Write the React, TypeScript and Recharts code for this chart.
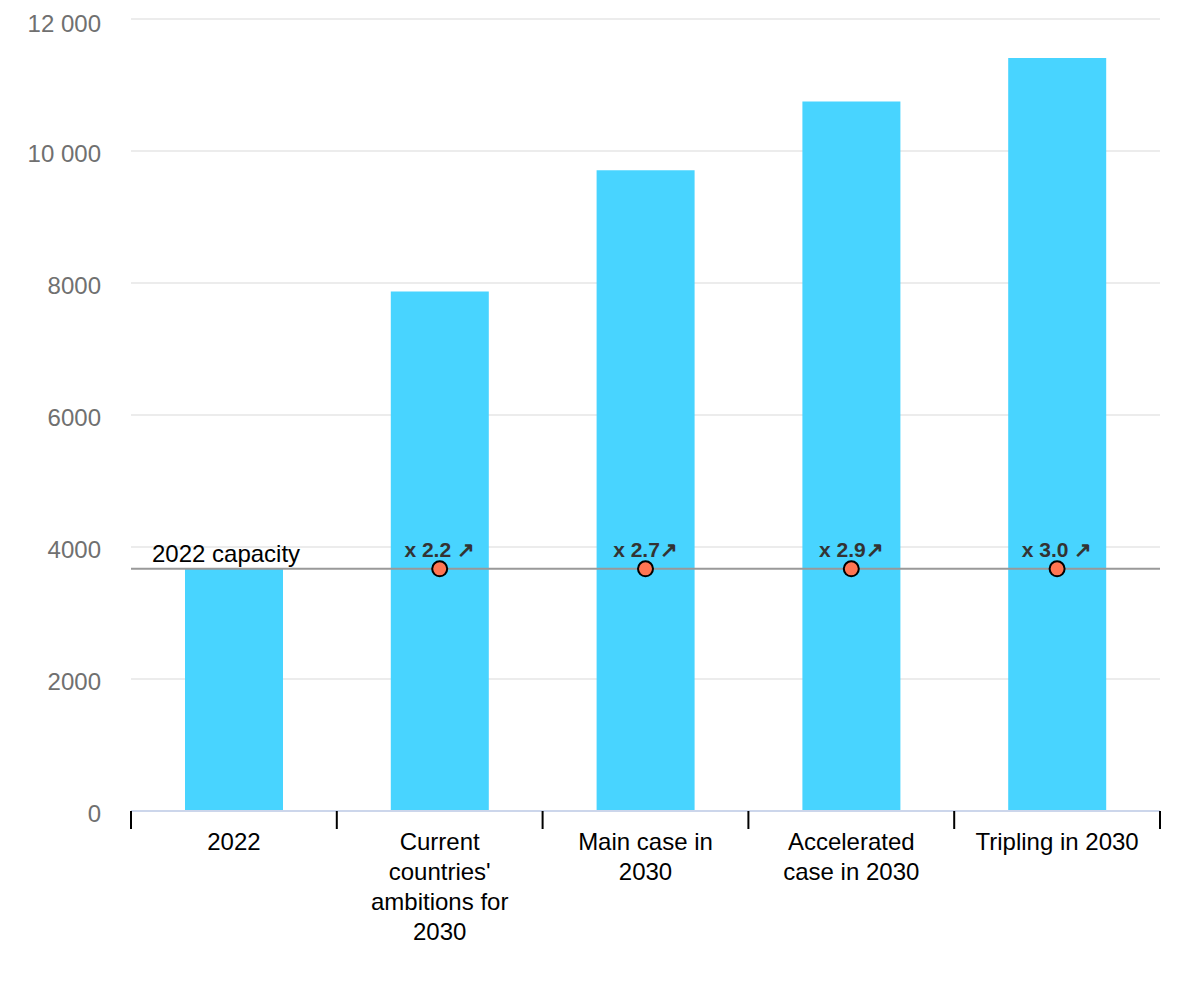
import React from 'react';
import { Bar, CartesianGrid, ComposedChart, LabelList, Line, ReferenceLine, XAxis, YAxis } from 'recharts';

const categories = ['2022', "Current\ncountries'\nambitions for\n2030", 'Main case in\n2030', 'Accelerated\ncase in 2030', 'Tripling in 2030'];
const capacity = [3670, 7870, 9710, 10750, 11410];
const baseline2022 = 3670;
const markerValues = [null, 3670, 3670, 3670, 3670];
const multipliers = ['', 'x 2.2 ↗', 'x 2.7↗', 'x 2.9↗', 'x 3.0 ↗'];
const yTicks = [0, 2000, 4000, 6000, 8000, 10000, 12000];

const data = categories.map((name, i) => ({
  name,
  value: capacity[i],
  marker: markerValues[i],
  mult: multipliers[i],
}));

const FONT = 'Arial, "Liberation Sans", sans-serif';
const CHART_W = 1200;
const CHART_H = 1000;
const M = { top: 11, right: 48, bottom: 47, left: 0 };
const Y_W = 123;
const BAND = (CHART_W - M.right - M.left - Y_W) / categories.length;

const fmtY = (v: number) => (v >= 10000 ? `${Math.floor(v / 1000)} ${String(v % 1000).padStart(3, '0')}` : String(v));

function CategoryTick(props: any) {
  const { x, y, payload, index } = props;
  const lines = String(payload.value).split('\n');
  const axisY = y - 8;
  return (
    <g>
      <line x1={x - BAND / 2} x2={x - BAND / 2} y1={axisY} y2={axisY + 18} stroke="#000" strokeWidth={2} />
      {index === categories.length - 1 && (
        <line x1={x + BAND / 2} x2={x + BAND / 2} y1={axisY} y2={axisY + 18} stroke="#000" strokeWidth={2} />
      )}
      <text x={x} y={axisY + 39} textAnchor="middle" fontSize={24} fill="#000" fontFamily={FONT}>
        {lines.map((l, i) => (
          <tspan key={i} x={x} dy={i === 0 ? 0 : 30}>
            {l}
          </tspan>
        ))}
      </text>
    </g>
  );
}

function CapacityLabel(props: any) {
  const { viewBox } = props;
  return (
    <text x={viewBox.x + 21} y={viewBox.y - 7} fontSize={24} fill="#000" fontFamily={FONT}>
      2022 capacity
    </text>
  );
}

export default function App() {
  return (
    <div style={{ width: CHART_W, height: CHART_H, fontFamily: FONT }}>
      <ComposedChart width={CHART_W} height={CHART_H} data={data} margin={M} barCategoryGap={0}>
        <CartesianGrid vertical={false} stroke="#e6e6e6" strokeWidth={1.5} />
        <XAxis
          dataKey="name"
          interval={0}
          height={150}
          tickLine={false}
          axisLine={{ stroke: '#ccd6eb', strokeWidth: 2 }}
          tick={<CategoryTick />}
        />
        <YAxis
          width={Y_W}
          domain={[0, 12000]}
          ticks={yTicks}
          tickFormatter={fmtY}
          axisLine={false}
          tickLine={false}
          tickMargin={24}
          tick={{ fontSize: 24, fill: '#707070', fontFamily: FONT, dy: 2 }}
        />
        <Bar dataKey="value" fill="#48d4ff" barSize={98} isAnimationActive={false} />
        <ReferenceLine y={baseline2022} stroke="#999" strokeWidth={2} label={<CapacityLabel />} />
        <Line
          dataKey="marker"
          stroke="none"
          dot={{ r: 7.5, fill: '#ff7552', stroke: '#000', strokeWidth: 2 }}
          activeDot={false}
          isAnimationActive={false}
        >
          <LabelList dataKey="mult" position="top" offset={12} fontSize={21} fontWeight="bold" fill="#333" fontFamily={FONT} />
        </Line>
      </ComposedChart>
    </div>
  );
}
